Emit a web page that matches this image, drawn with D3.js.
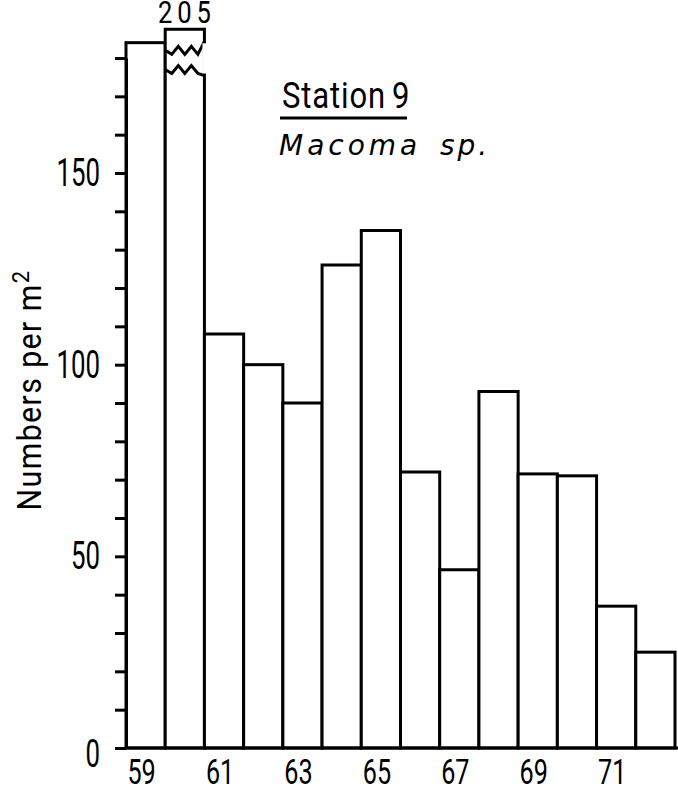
<!DOCTYPE html>
<html>
<head>
<meta charset="utf-8">
<script src="https://cdn.jsdelivr.net/npm/d3@7"></script>
<style>
  body { margin: 0; background: #fff; }
  text { font-family: Roboto, "DejaVu Sans", sans-serif; fill: #000; }
</style>
</head>
<body>
<div id="chart"></div>
<script>
// survey years (19xx) and counts per m2, station 9, Macoma sp.
var years = ["59", "60", "61", "62", "63", "64", "65", "66", "67", "68", "69", "70", "71", "72"];
var counts = [184, 205, 108, 100, 90, 126, 135, 72, 46.5, 93, 71.5, 71, 37, 25];
var yearLabels = ["59", "61", "63", "65", "67", "69", "71"];
var yTicks = [0, 10, 20, 30, 40, 50, 60, 70, 80, 90, 100, 110, 120, 130, 140, 150, 160, 170, 180];
var yLabels = [0, 50, 100, 150];
// the 205 bar is cut off: drawn up to this height, with a break between these two values
var brokenTop = 187.5;
var breakHi = 182, breakLo = 177;

(function() {
  var width = 678,
    height = 790;

  var svg = d3.select("#chart")
    .append("svg")
    .attr("width", width)
    .attr("height", height);

  var x = d3.scaleBand().domain(years).range([126, 675]).padding(0);
  var y = d3.scaleLinear().domain([0, 180]).range([748, 58]);

  var data = years.map(function(d, i) { return { year: d, count: counts[i] }; });

  function shown(d) {
    return d.count > brokenTop ? brokenTop : d.count;
  }

  // narrow lettering like the stencil font of the original
  function label(px, py, sx, txt) {
    return svg.append("text")
      .attr("transform", "translate(" + px + "," + py + ") scale(" + sx + ",1)")
      .text(txt);
  }

  // bars
  svg.selectAll(".bar")
    .data(data)
    .enter().append("rect")
    .attr("class", "bar")
    .attr("x", function(d) { return x(d.year); })
    .attr("y", function(d) { return y(shown(d)); })
    .attr("width", x.bandwidth())
    .attr("height", function(d) { return y(0) - y(shown(d)); })
    .attr("fill", "#fff")
    .attr("stroke", "#000")
    .attr("stroke-width", 3);

  // break marks on the tall bar
  var big = data.filter(function(d) { return d.count > brokenTop; });
  big.forEach(function(d) {
    var x0 = x(d.year), w = x.bandwidth();
    [breakHi, breakLo].forEach(function(v, j) {
      var pts = d3.range(0, 7).map(function(k) {
        var off = (k % 2 === 0 ? -4 : 4);
        if (k === 0) off = 0;
        if (k === 6) off = j === 0 ? -9 : 6;
        return [x0 + w * k / 6, y(v) + off];
      });
      svg.append("path")
        .attr("d", d3.line()(pts))
        .attr("fill", "none")
        .attr("stroke", "#000")
        .attr("stroke-width", 3);
    });
    svg.append("line")
      .attr("x1", x0 + w).attr("x2", x0 + w)
      .attr("y1", y(breakHi) - 7).attr("y2", y(breakLo) + 4)
      .attr("stroke", "#fff")
      .attr("stroke-width", 4);
    label(x0 + w / 2 + 2, y(brokenTop) - 6, 0.8, d.count)
      .attr("text-anchor", "middle")
      .attr("font-size", 32)
      .attr("letter-spacing", 6);
  });

  // y axis
  var yAxis = d3.axisLeft(y)
    .tickValues(yTicks)
    .tickSize(11)
    .tickSizeOuter(0)
    .tickFormat("");

  var ya = svg.append("g")
    .attr("transform", "translate(" + x.range()[0] + ",0)")
    .call(yAxis);
  ya.select(".domain").attr("stroke", "#000").attr("stroke-width", 3);
  ya.selectAll(".tick line").attr("stroke", "#000").attr("stroke-width", 3);

  yLabels.forEach(function(v) {
    label(x.range()[0] - 26, y(v) + (v === 0 ? 19 : 13), 0.68, v)
      .attr("text-anchor", "end")
      .attr("font-size", 38);
  });

  // baseline
  svg.append("line")
    .attr("x1", x.range()[0]).attr("x2", width)
    .attr("y1", y(0)).attr("y2", y(0))
    .attr("stroke", "#000")
    .attr("stroke-width", 3);

  // x labels, odd years only
  yearLabels.forEach(function(d) {
    label(x(d) + x.bandwidth() / 2 - 4, 784, 0.72, d)
      .attr("text-anchor", "middle")
      .attr("font-size", 35);
  });

  // y title
  var yt = svg.append("text")
    .attr("transform", "translate(41,390) rotate(-90) scale(0.92,1)")
    .attr("text-anchor", "middle")
    .attr("font-size", 33)
    .attr("letter-spacing", 1.5);
  yt.append("tspan").text("Numbers per m");
  yt.append("tspan").attr("dy", -12).attr("font-size", 24).text("2");

  // station title
  label(282, 108, 0.84, "Station")
    .attr("font-size", 37)
    .attr("letter-spacing", 1);
  label(392, 108, 0.84, "9")
    .attr("font-size", 37);
  svg.append("line")
    .attr("x1", 280).attr("x2", 407)
    .attr("y1", 118).attr("y2", 118)
    .attr("stroke", "#000")
    .attr("stroke-width", 3);
  svg.append("text")
    .attr("x", 279)
    .attr("y", 155)
    .style("font-family", "'DejaVu Sans'")
    .style("font-style", "italic")
    .attr("font-size", 28)
    .attr("letter-spacing", 4)
    .text("Macoma");
  svg.append("text")
    .attr("x", 440)
    .attr("y", 155)
    .style("font-family", "'DejaVu Sans'")
    .style("font-style", "italic")
    .attr("font-size", 28)
    .attr("letter-spacing", 3)
    .text("sp.");
})();
</script>
</body>
</html>
